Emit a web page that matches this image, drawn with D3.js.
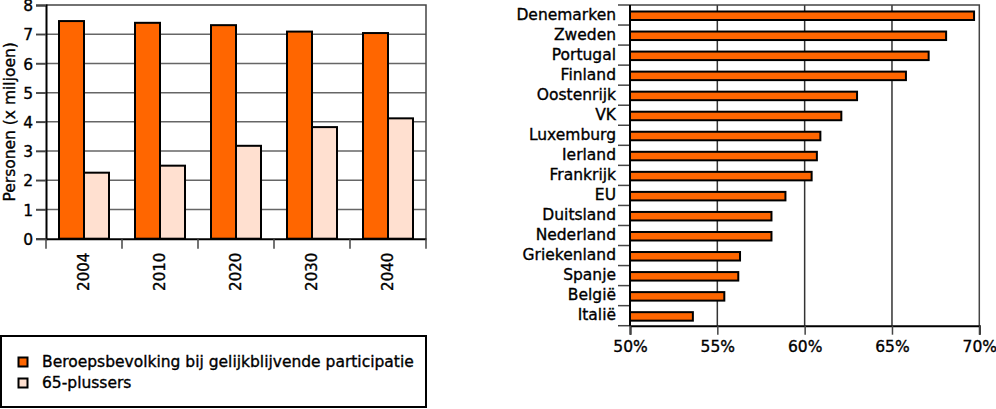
<!DOCTYPE html>
<html>
<head>
<meta charset="utf-8">
<script src="https://cdn.jsdelivr.net/npm/d3@7"></script>
<style>
body { margin: 0; background: #fff; }
svg text { font-family: "DejaVu Sans", sans-serif; font-size: 15.5px; fill: #000; stroke: #000; stroke-width: 0.35px; }
</style>
</head>
<body>
<div class="chart"></div>
<script>
var years = ["2004", "2010", "2020", "2030", "2040"];
var beroeps = [7.45, 7.39, 7.31, 7.09, 7.04];
var plussers = [2.26, 2.50, 3.18, 3.82, 4.12];
var yTicks = [0, 1, 2, 3, 4, 5, 6, 7, 8];
var legendLabels = ["Beroepsbevolking bij gelijkblijvende participatie", "65-plussers"];

var countries = ["Denemarken", "Zweden", "Portugal", "Finland", "Oostenrijk", "VK", "Luxemburg", "Ierland",
  "Frankrijk", "EU", "Duitsland", "Nederland", "Griekenland", "Spanje", "België", "Italië"];
var participatie = [69.7, 68.1, 67.1, 65.8, 63.0, 62.1, 60.9, 60.7, 60.4, 58.9, 58.1, 58.1, 56.3, 56.2, 55.4, 53.6];
var pctTicks = [50, 55, 60, 65, 70];

var orange = "#ff6600";
var pink = "#ffe0d0";

var svg = d3.select('.chart').append('svg').attr('width', 996).attr('height', 409);

// ---- left chart: grouped bars
var left = { x0: 46, x1: 426, y0: 5, y1: 238.7 };

var x = d3.scaleBand().domain(years).range([left.x0, left.x1]);
var y = d3.scaleLinear().domain([0, 8]).range([left.y1, left.y0]);
var bw = 25;

var lg = svg.append('g');

lg.selectAll('.grid').data(yTicks.slice(1, -1)).enter().append('line')
  .attr('x1', 36).attr('x2', left.x1)
  .attr('y1', function(d) { return y(d); }).attr('y2', function(d) { return y(d); })
  .attr('stroke', '#666').attr('stroke-width', 1.5);

// frame
lg.append('path')
  .attr('d', 'M' + left.x0 + ',' + left.y0 + 'H' + left.x1 + 'V' + left.y1)
  .attr('fill', 'none').attr('stroke', '#444').attr('stroke-width', 1.5);

years.forEach(function(yr, i) {
  var bx = x(yr) + (x.bandwidth() - 2 * bw) / 2;
  lg.append('rect').attr('x', bx).attr('y', y(beroeps[i]))
    .attr('width', bw).attr('height', y(0) - y(beroeps[i]))
    .attr('fill', orange).attr('stroke', '#000').attr('stroke-width', 2);
  lg.append('rect').attr('x', bx + bw).attr('y', y(plussers[i]))
    .attr('width', bw).attr('height', y(0) - y(plussers[i]))
    .attr('fill', pink).attr('stroke', '#000').attr('stroke-width', 2);
});

var yAxis = lg.append('g').attr('transform', 'translate(' + left.x0 + ',0)')
  .call(d3.axisLeft(y).tickValues(yTicks).tickSize(10).tickPadding(3));
yAxis.select('.domain').attr('stroke', '#000').attr('stroke-width', 2);
yAxis.selectAll('.tick line').attr('stroke', '#444').attr('stroke-width', 1.5);
yAxis.selectAll('text').style('font-size', '15.5px').attr('dy', '0.36em');

var xAxis = lg.append('g').attr('transform', 'translate(0,' + left.y1 + ')')
  .call(d3.axisBottom(x).tickSize(0));
xAxis.select('.domain').attr('stroke', '#000').attr('stroke-width', 2);
xAxis.selectAll('text')
  .attr('transform', 'rotate(-90)')
  .attr('x', -14).attr('y', 0).attr('dy', '0.36em')
  .style('text-anchor', 'end').style('font-size', '15px');

// tick marks at band edges
lg.selectAll('.bt').data(years.concat(['end'])).enter().append('line')
  .attr('x1', function(d, i) { return left.x0 + i * x.step(); })
  .attr('x2', function(d, i) { return left.x0 + i * x.step(); })
  .attr('y1', left.y1).attr('y2', left.y1 + 10)
  .attr('stroke', '#444').attr('stroke-width', 1.5);

lg.append('text')
  .attr('transform', 'translate(15,' + ((left.y0 + left.y1) / 2) + ') rotate(-90)')
  .style('text-anchor', 'middle').text('Personen (x miljoen)');

// legend
var leg = svg.append('g');
leg.append('rect').attr('x', 1).attr('y', 336).attr('width', 425).attr('height', 71)
  .attr('fill', 'none').attr('stroke', '#000').attr('stroke-width', 2);
[orange, pink].forEach(function(c, i) {
  leg.append('rect').attr('x', 18.5).attr('y', 357.5 + i * 21).attr('width', 9).attr('height', 9)
    .attr('fill', c).attr('stroke', '#000').attr('stroke-width', 2);
  leg.append('text').attr('x', 42).attr('y', 367 + i * 21).text(legendLabels[i]);
});

// ---- right chart: horizontal bars
var right = { x0: 630, x1: 979.3, y0: 5, y1: 325.7 };
var px = d3.scaleLinear().domain([50, 70]).range([right.x0, right.x1]);
var py = d3.scaleBand().domain(countries).range([right.y0, right.y1]);

var rg = svg.append('g');

rg.selectAll('.vgrid').data(pctTicks.slice(1, -1)).enter().append('line')
  .attr('x1', function(d) { return px(d); }).attr('x2', function(d) { return px(d); })
  .attr('y1', right.y0).attr('y2', right.y1)
  .attr('stroke', '#333').attr('stroke-width', 1.5);

rg.append('path')
  .attr('d', 'M' + right.x0 + ',' + right.y0 + 'H' + right.x1 + 'V' + right.y1)
  .attr('fill', 'none').attr('stroke', '#444').attr('stroke-width', 1.5);

rg.selectAll('.hbar').data(countries).enter().append('rect')
  .attr('x', px(50))
  .attr('y', function(d) { return py(d) + 6.5; })
  .attr('width', function(d, i) { return px(participatie[i]) - px(50); })
  .attr('height', 8.5)
  .attr('fill', orange).attr('stroke', '#000').attr('stroke-width', 2);

// category ticks at band edges
rg.selectAll('.ct').data(countries.concat(['end'])).enter().append('line')
  .attr('x1', right.x0 - 12).attr('x2', right.x0)
  .attr('y1', function(d, i) { return right.y0 + i * py.step(); })
  .attr('y2', function(d, i) { return right.y0 + i * py.step(); })
  .attr('stroke', '#444').attr('stroke-width', 1.5);

rg.selectAll('.cl').data(countries).enter().append('text')
  .attr('x', right.x0 - 14)
  .attr('y', function(d) { return py(d) + py.bandwidth() / 2 - 1; })
  .attr('dy', '0.36em')
  .style('text-anchor', 'end').text(function(d) { return d; });

var pAxis = rg.append('g').attr('transform', 'translate(0,' + right.y1 + ')')
  .call(d3.axisBottom(px).tickValues(pctTicks).tickSize(9).tickPadding(6)
    .tickFormat(function(d) { return d + '%'; }));
pAxis.select('.domain').attr('stroke', '#000').attr('stroke-width', 2);
pAxis.selectAll('.tick line').attr('stroke', '#444').attr('stroke-width', 1.5);
pAxis.selectAll('text').style('font-size', '15.5px');

rg.append('line').attr('x1', right.x0).attr('x2', right.x0)
  .attr('y1', right.y0).attr('y2', right.y1)
  .attr('stroke', '#000').attr('stroke-width', 2);
</script>
</body>
</html>
